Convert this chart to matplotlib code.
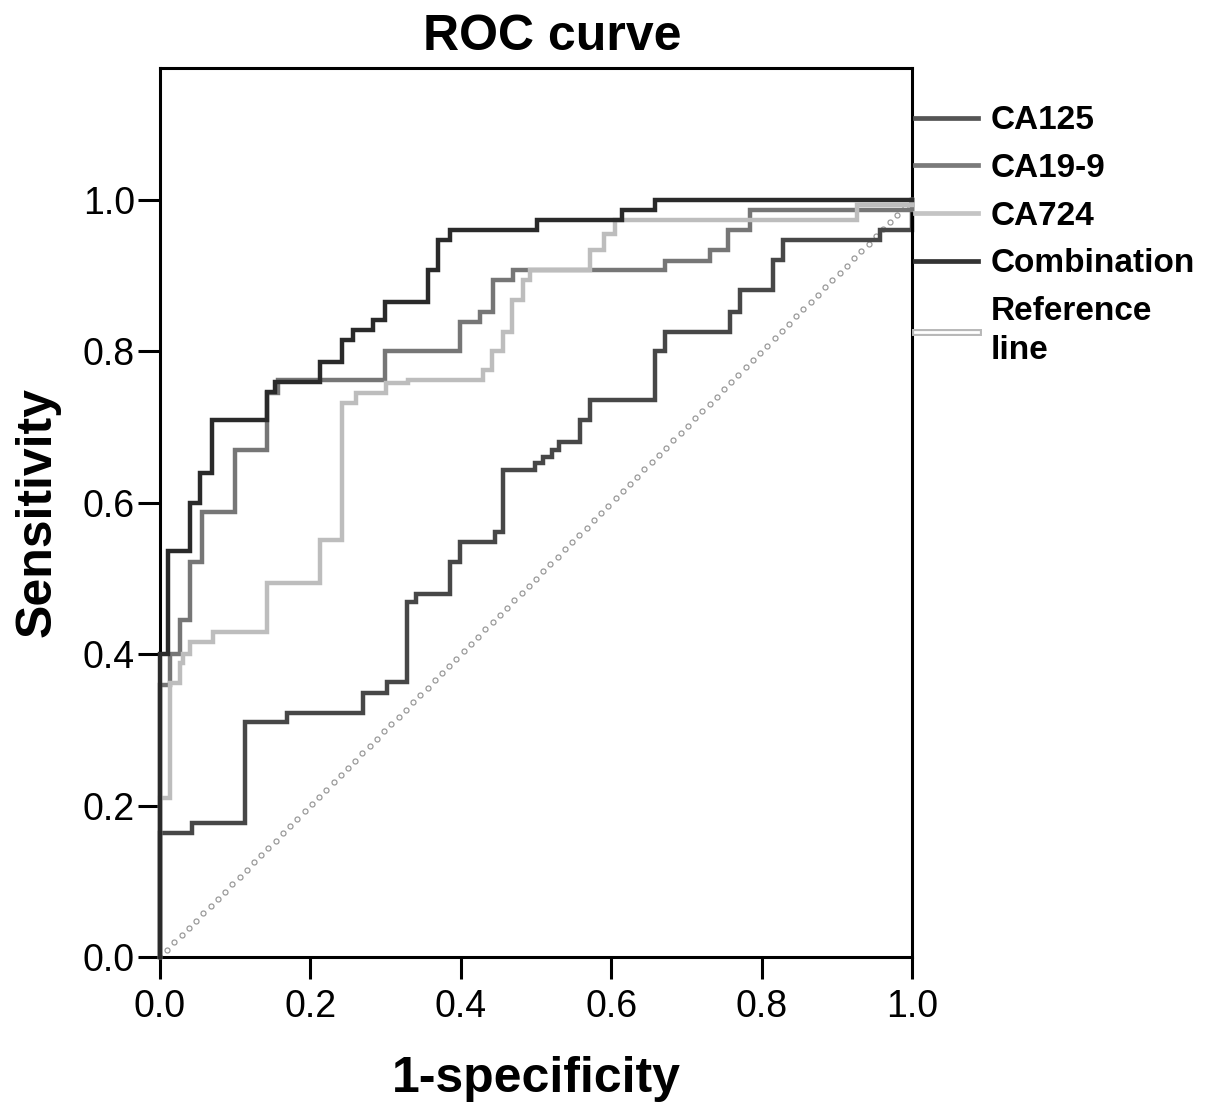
import numpy as np
import matplotlib
matplotlib.use('Agg')
import matplotlib.pyplot as plt
import matplotlib.patheffects as pe
from matplotlib.lines import Line2D

plt.rcParams['font.family'] = ['Liberation Sans', 'DejaVu Sans']

# ROC points (1-specificity, sensitivity), drawn as post steps
ca125_x = [0, 0, 0.042, 0.113, 0.169, 0.27, 0.302, 0.328, 0.341, 0.386, 0.399, 0.445, 0.456,
           0.499, 0.509, 0.521, 0.53, 0.559, 0.572, 0.658, 0.672, 0.758, 0.771, 0.815, 0.828,
           0.957, 1.0]
ca125_y = [0, 0.164, 0.177, 0.31, 0.322, 0.349, 0.363, 0.469, 0.48, 0.522, 0.548, 0.561, 0.643,
           0.652, 0.661, 0.67, 0.68, 0.709, 0.736, 0.80, 0.826, 0.852, 0.881, 0.921, 0.947,
           0.96, 1.0]

ca199_x = [0, 0, 0.013, 0.027, 0.04, 0.056, 0.1, 0.142, 0.157, 0.299, 0.399, 0.426, 0.443,
           0.469, 0.672, 0.731, 0.755, 0.785, 1.0]
ca199_y = [0, 0.36, 0.40, 0.445, 0.522, 0.588, 0.67, 0.745, 0.762, 0.80, 0.839, 0.852, 0.894,
           0.907, 0.92, 0.934, 0.96, 0.987, 1.0]

ca724_x = [0, 0, 0.013, 0.027, 0.031, 0.04, 0.07, 0.142, 0.213, 0.242, 0.26, 0.30, 0.33, 0.43,
           0.441, 0.456, 0.468, 0.483, 0.492, 0.572, 0.59, 0.605, 0.927, 1.0]
ca724_y = [0, 0.21, 0.362, 0.388, 0.40, 0.416, 0.429, 0.494, 0.551, 0.732, 0.745, 0.758, 0.762,
           0.775, 0.80, 0.826, 0.868, 0.894, 0.907, 0.934, 0.955, 0.974, 0.993, 1.0]

comb_x = [0, 0, 0.01, 0.04, 0.053, 0.069, 0.142, 0.153, 0.213, 0.242, 0.257, 0.283, 0.299,
          0.356, 0.370, 0.386, 0.501, 0.614, 0.658, 1.0]
comb_y = [0, 0.40, 0.537, 0.60, 0.64, 0.71, 0.746, 0.76, 0.786, 0.815, 0.828, 0.841, 0.865,
          0.907, 0.947, 0.96, 0.974, 0.987, 1.0, 1.0]

names = ['CA125', 'CA19-9', 'CA724', 'Combination']
colors = ['#474747', '#767676', '#bdbdbd', '#2a2a2a']
legend_colors = ['#555555', '#7a7a7a', '#c4c4c4', '#333333']

# reference diagonal
ref = np.linspace(0, 1, 105)

fig = plt.figure(figsize=(12.05, 11.2), dpi=100)
ax = fig.add_axes([0.1328, 0.1455, 0.624, 0.7938])

ax.plot(ref, ref, linestyle='none', marker='o', markersize=3.6,
        markerfacecolor='white', markeredgecolor='#9a9a9a', markeredgewidth=0.9, zorder=1)

series = [(ca724_x, ca724_y), (ca199_x, ca199_y), (ca125_x, ca125_y), (comb_x, comb_y)]
order = [2, 1, 0, 3]
for (xs, ys), i in zip(series, order):
    ax.plot(xs, ys, drawstyle='steps-post', color=colors[i], lw=3.2, zorder=2 + i,
            solid_joinstyle='miter', clip_on=False)

ax.set_xlim(0, 1)
ax.set_ylim(0, 1.1744)
ax.set_xticks([0, 0.2, 0.4, 0.6, 0.8, 1.0])
ax.set_yticks([0, 0.2, 0.4, 0.6, 0.8, 1.0])
ax.xaxis.set_major_formatter(matplotlib.ticker.FormatStrFormatter('%.1f'))
ax.yaxis.set_major_formatter(matplotlib.ticker.FormatStrFormatter('%.1f'))
ax.tick_params(length=16, width=2.2, labelsize=27, color='black', direction='out')
ax.tick_params(axis='x', pad=7)
ax.tick_params(axis='y', pad=2)
for s in ax.spines.values():
    s.set_linewidth(2.2)

ax.set_xlabel('1-specificity', fontsize=36, fontweight='bold', labelpad=22)
ax.set_ylabel('Sensitivity', fontsize=36, fontweight='bold', labelpad=16)

fig.text(552 / 1205, 1 - 50 / 1120, 'ROC curve', ha='center', va='baseline',
         fontsize=36, fontweight='bold')

handles = [Line2D([], [], color=c, lw=3.4) for c in legend_colors]
ref_handle = Line2D([], [], color='white', lw=2,
                    path_effects=[pe.Stroke(linewidth=5, foreground='#b8b8b8'), pe.Normal()])
handles.append(ref_handle)
labels = names + ['Reference\nline']
leg = ax.legend(handles, labels, loc='upper left', bbox_to_anchor=(1.004, 0.958),
                frameon=False, borderpad=0, borderaxespad=0, handlelength=1.9,
                handletextpad=0.36, labelspacing=0.5,
                prop={'size': 24, 'weight': 'bold'})
leg.get_texts()[-1].set_linespacing(1.35)

fig.savefig('out.png', dpi=100)
